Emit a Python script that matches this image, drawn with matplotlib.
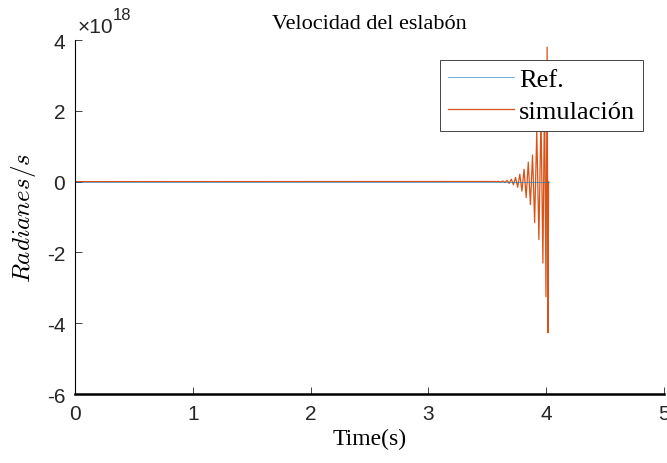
import matplotlib.pyplot as plt
from matplotlib.ticker import FuncFormatter

# reference signal (stays at zero)
ref_t = [0.0, 4.02]
ref_v = [0.0, 0.0]

# simulated signal, values in units of 1e18 rad/s
sim_t = [0.0, 3.560, 3.578, 3.596, 3.614, 3.632, 3.650, 3.668, 3.686, 3.704,
         3.722, 3.740, 3.758, 3.776, 3.794, 3.812, 3.830, 3.848, 3.866, 3.884,
         3.902, 3.920, 3.938, 3.956, 3.972, 3.986, 3.998, 4.008, 4.016, 4.020]
sim_v = [0.0, 0.003, -0.005, 0.008, -0.012, 0.018, -0.025, 0.035, -0.05, 0.07,
         -0.09, 0.12, -0.16, 0.21, -0.27, 0.35, -0.45, 0.55, -0.65, 0.75,
         -1.16, 1.45, -1.64, 1.9, -2.3, 2.6, -3.25, 3.8, -4.27, 0.0]

scale = 1e18
xticks = [0, 1, 2, 3, 4, 5]
yticks = [-6, -4, -2, 0, 2, 4]

plt.rcParams['mathtext.fontset'] = 'cm'

fig = plt.figure(figsize=(6.67, 4.64), dpi=100)
ax = fig.add_axes([0.1124, 0.1487, 0.8831, 0.7629])

ax.plot(sim_t, [v * scale for v in sim_v], color='#D95319', lw=0.9, label='simulación')
ax.plot(ref_t, [v * scale for v in ref_v], color='#0072BD', lw=0.5, alpha=0.8, label='Ref.')

ax.set_xlim(0, 5)
ax.set_ylim(-6 * scale, 4 * scale)
ax.set_xticks(xticks)
ax.set_yticks([y * scale for y in yticks])
ax.yaxis.set_major_formatter(FuncFormatter(lambda v, p: f"{v / scale:g}"))

for s in ['top', 'right']:
    ax.spines[s].set_visible(False)
ax.spines['left'].set_linewidth(0.8)
ax.spines['bottom'].set_linewidth(1.8)
ax.tick_params(direction='in', length=5, width=0.6, colors='#262626', labelsize=15)
ax.tick_params(axis='x', pad=7)
ax.tick_params(axis='y', pad=7)
for lab in ax.get_xticklabels() + ax.get_yticklabels():
    lab.set_fontfamily('Liberation Sans')

ax.text(0.004, 1.012, '×10', transform=ax.transAxes, fontsize=15,
        family='Liberation Sans', color='#262626', va='bottom', ha='left')
ax.text(0.064, 1.05, '18', transform=ax.transAxes, fontsize=12,
        family='Liberation Sans', color='#262626', va='bottom', ha='left')

ax.set_title('Velocidad del eslabón', family='Liberation Serif', fontsize=16, pad=9)
ax.set_xlabel('Time(s)', family='Liberation Serif', fontsize=17, labelpad=4)
ax.set_ylabel(r'$Radianes/s$', fontsize=18, labelpad=6)

handles, labels = ax.get_legend_handles_labels()
leg = ax.legend(handles[::-1], labels[::-1], loc='upper right',
                bbox_to_anchor=(643 / 667, 1 - 61 / 464), bbox_transform=fig.transFigure,
                prop={'family': 'Liberation Serif', 'size': 19}, frameon=True,
                fancybox=False, framealpha=1, edgecolor='#262626',
                handlelength=2.5, borderpad=0.3, labelspacing=0.3, handletextpad=0.2,
                borderaxespad=0)
leg.get_frame().set_linewidth(0.6)

fig.savefig('out.png', dpi=100)
